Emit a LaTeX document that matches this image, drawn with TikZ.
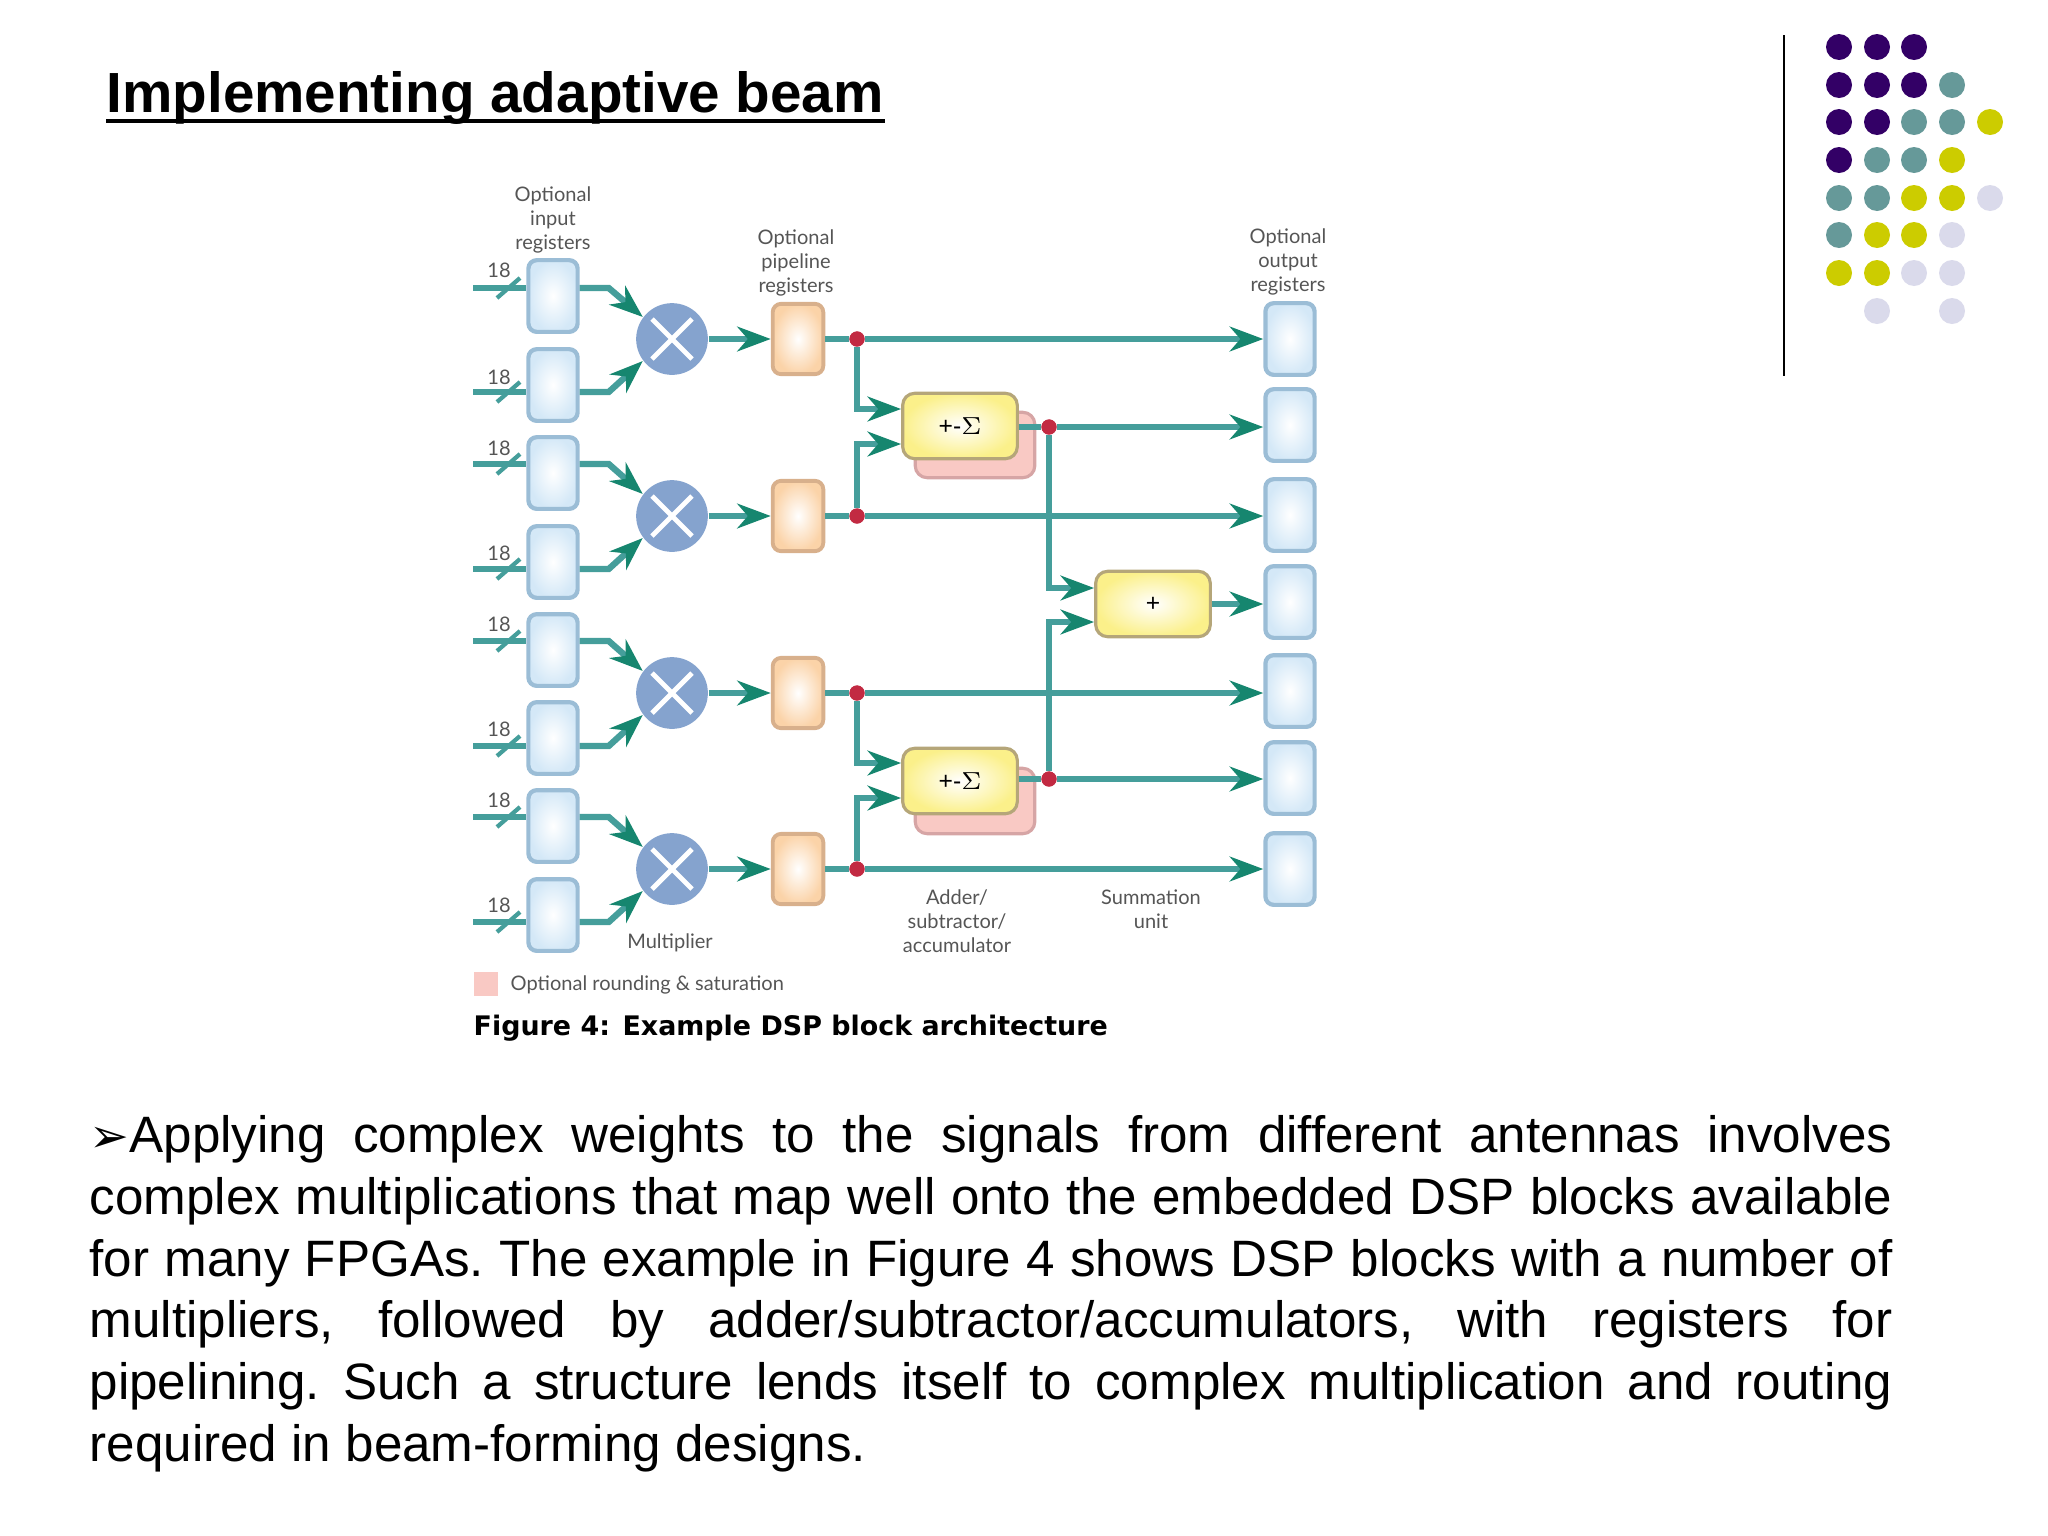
\documentclass[tikz,border=0pt]{standalone}
\usepackage{fontspec}
\setmainfont{Liberation Sans}
\newfontfamily\labelfont{Lato}
\newfontfamily\capfont{DejaVu Sans}
\newfontfamily\symfont{DejaVu Sans}
\usepackage{tikz}
\usetikzlibrary{arrows.meta,shapes,positioning}
\definecolor{wirecol}{HTML}{459E9B}
\definecolor{headcol}{HTML}{16866F}
\definecolor{dotcol}{HTML}{C22A42}
\definecolor{regedge}{HTML}{9BBDD6}
\definecolor{regfill}{HTML}{D4E8F7}
\definecolor{pipeedge}{HTML}{D8B08C}
\definecolor{pipefill}{HTML}{FBD3A8}
\definecolor{addedge}{HTML}{B5A679}
\definecolor{addfill}{HTML}{FBF08A}
\definecolor{pinkfill}{HTML}{F9C9C4}
\definecolor{pinkedge}{HTML}{D6A5A5}
\definecolor{multfill}{HTML}{85A3CE}
\definecolor{labelcol}{HTML}{555555}
\definecolor{purplecol}{HTML}{330066}
\definecolor{tealcol}{HTML}{669999}
\definecolor{olivecol}{HTML}{CCCC00}
\definecolor{palecol}{HTML}{DADAEB}
\begin{document}
\begin{tikzpicture}[x=0.01cm,y=0.01cm]
    \tikzstyle{every node}+=[inner sep=0pt]
    \tikzstyle{reg}=[draw=regedge,line width=1.2pt,rounded corners=2.4pt,minimum width=14pt,minimum height=20.4pt,inner color=white,outer color=regfill]
    \tikzstyle{pipe}=[draw=pipeedge,line width=1.1pt,rounded corners=2.4pt,minimum width=14.4pt,minimum height=20pt,inner color=white,outer color=pipefill]
    \tikzstyle{addbox}=[draw=addedge,line width=0.9pt,rounded corners=3.4pt,minimum width=32.6pt,minimum height=18.6pt,inner color=white,outer color=addfill,font=\fontsize{7}{8}\selectfont]
    \tikzstyle{pinkbox}=[draw=pinkedge,line width=0.9pt,rounded corners=3.4pt,minimum width=34pt,minimum height=18.6pt,fill=pinkfill]
    \tikzstyle{mult}=[circle,fill=multfill,minimum size=20.4pt]
    \tikzstyle{xline}=[draw=white,line width=1.4pt]
    \tikzstyle{dot}=[circle,fill=dotcol,minimum size=4.3pt]
    \tikzstyle{wire}=[draw=wirecol,line width=1.8pt]
    \tikzstyle{wirearrow}=[wire,-{Stealth[length=9.5pt,width=7pt,inset=3pt,color=headcol]}]
    \tikzstyle{tick}=[draw=wirecol,line width=1.2pt]
    \tikzstyle{lab}=[text=labelcol,font=\labelfont\fontsize{5.7}{6.9}\selectfont,align=center]
    \tikzstyle{num}=[text=labelcol,font=\labelfont\fontsize{5.7}{6}\selectfont]
    \tikzstyle{spot}=[radius=13]

    \useasboundingbox (0,0) rectangle (2048,-1536);

    % title and side rule
    \node (title) [anchor=base west,font=\bfseries\fontsize{16.1}{18}\selectfont] at (106,-112) {Implementing adaptive beam};
    \draw [line width=1pt] (106,-121) -- (885,-121);
    \draw [line width=0.7pt] (1784,-35) -- (1784,-376);

    % colour dots
    \fill [purplecol,spot] (1839,-47) circle;
    \fill [purplecol,spot] (1877,-47) circle;
    \fill [purplecol,spot] (1914,-47) circle;
    \fill [purplecol,spot] (1839,-85) circle;
    \fill [purplecol,spot] (1877,-85) circle;
    \fill [purplecol,spot] (1914,-85) circle;
    \fill [tealcol,spot] (1952,-85) circle;
    \fill [purplecol,spot] (1839,-122) circle;
    \fill [purplecol,spot] (1877,-122) circle;
    \fill [tealcol,spot] (1914,-122) circle;
    \fill [tealcol,spot] (1952,-122) circle;
    \fill [olivecol,spot] (1990,-122) circle;
    \fill [purplecol,spot] (1839,-160) circle;
    \fill [tealcol,spot] (1877,-160) circle;
    \fill [tealcol,spot] (1914,-160) circle;
    \fill [olivecol,spot] (1952,-160) circle;
    \fill [tealcol,spot] (1839,-198) circle;
    \fill [tealcol,spot] (1877,-198) circle;
    \fill [olivecol,spot] (1914,-198) circle;
    \fill [olivecol,spot] (1952,-198) circle;
    \fill [palecol,spot] (1990,-198) circle;
    \fill [tealcol,spot] (1839,-235) circle;
    \fill [olivecol,spot] (1877,-235) circle;
    \fill [olivecol,spot] (1914,-235) circle;
    \fill [palecol,spot] (1952,-235) circle;
    \fill [olivecol,spot] (1839,-273) circle;
    \fill [olivecol,spot] (1877,-273) circle;
    \fill [palecol,spot] (1914,-273) circle;
    \fill [palecol,spot] (1952,-273) circle;
    \fill [palecol,spot] (1877,-311) circle;
    \fill [palecol,spot] (1952,-311) circle;

    % blocks
    \node (ir1) [reg] at (553,-296) {};
    \node (ir2) [reg] at (553,-385) {};
    \node (ir3) [reg] at (553,-473) {};
    \node (ir4) [reg] at (553,-562) {};
    \node (ir5) [reg] at (553,-650) {};
    \node (ir6) [reg] at (553,-738) {};
    \node (ir7) [reg] at (553,-826) {};
    \node (ir8) [reg] at (553,-915) {};
    \node (m1) [mult] at (672,-339) {};
    \node (m2) [mult] at (672,-516) {};
    \node (m3) [mult] at (672,-693) {};
    \node (m4) [mult] at (672,-869) {};
    \node (pr1) [pipe] at (798,-339) {};
    \node (pr2) [pipe] at (798,-516) {};
    \node (pr3) [pipe] at (798,-693) {};
    \node (pr4) [pipe] at (798,-869) {};
    \node (or1) [reg] at (1290,-339) {};
    \node (or2) [reg] at (1290,-425) {};
    \node (or3) [reg] at (1290,-515) {};
    \node (or4) [reg] at (1290,-602) {};
    \node (or5) [reg] at (1290,-691) {};
    \node (or6) [reg] at (1290,-778) {};
    \node (or7) [reg] at (1290,-869) {};
    \node (pk1) [pinkbox] at (975,-445) {};
    \node (add1) [addbox] at (960,-426) {+-$\Sigma$};
    \node (pk2) [pinkbox] at (975,-801) {};
    \node (add2) [addbox] at (960,-781) {+-$\Sigma$};
    \node (sum) [addbox] at (1153,-604) {+};

    % junctions
    \coordinate (c1) at (857,-409);
    \coordinate (c2) at (857,-444);
    \coordinate (c3) at (857,-763);
    \coordinate (c4) at (857,-798);
    \coordinate (c5) at (1049,-588);
    \coordinate (c6) at (1049,-622);
    \node (d1) [dot] at (857,-339) {};
    \node (d2) [dot] at (857,-516) {};
    \node (d3) [dot] at (857,-693) {};
    \node (d4) [dot] at (857,-869) {};
    \node (d5) [dot] at (1049,-427) {};
    \node (d6) [dot] at (1049,-779) {};

    % inputs
    \coordinate (in1) at (473,-288);
    \coordinate (in2) at (473,-392);
    \coordinate (in3) at (473,-464);
    \coordinate (in4) at (473,-569);
    \coordinate (in5) at (473,-641);
    \coordinate (in6) at (473,-746);
    \coordinate (in7) at (473,-817);
    \coordinate (in8) at (473,-922);
    \draw [wire] (in1) -- (ir1.west |- in1);
    \draw [wire] (in2) -- (ir2.west |- in2);
    \draw [wire] (in3) -- (ir3.west |- in3);
    \draw [wire] (in4) -- (ir4.west |- in4);
    \draw [wire] (in5) -- (ir5.west |- in5);
    \draw [wire] (in6) -- (ir6.west |- in6);
    \draw [wire] (in7) -- (ir7.west |- in7);
    \draw [wire] (in8) -- (ir8.west |- in8);
    \draw [tick] ([shift={(24,-10)}]in1) -- ([shift={(47,10)}]in1);
    \draw [tick] ([shift={(24,-10)}]in2) -- ([shift={(47,10)}]in2);
    \draw [tick] ([shift={(24,-10)}]in3) -- ([shift={(47,10)}]in3);
    \draw [tick] ([shift={(24,-10)}]in4) -- ([shift={(47,10)}]in4);
    \draw [tick] ([shift={(24,-10)}]in5) -- ([shift={(47,10)}]in5);
    \draw [tick] ([shift={(24,-10)}]in6) -- ([shift={(47,10)}]in6);
    \draw [tick] ([shift={(24,-10)}]in7) -- ([shift={(47,10)}]in7);
    \draw [tick] ([shift={(24,-10)}]in8) -- ([shift={(47,10)}]in8);
    \node (n1) [num] at (499,-270) {18};
    \node (n2) [num] at (499,-377) {18};
    \node (n3) [num] at (499,-448) {18};
    \node (n4) [num] at (499,-553) {18};
    \node (n5) [num] at (499,-624) {18};
    \node (n6) [num] at (499,-729) {18};
    \node (n7) [num] at (499,-800) {18};
    \node (n8) [num] at (499,-905) {18};

    % register to multiplier
    \draw [wirearrow] (ir1.east |- in1) -- ++(29,0) -- (m1.143);
    \draw [wirearrow] (ir2.east |- in2) -- ++(29,0) -- (m1.217);
    \draw [wirearrow] (ir3.east |- in3) -- ++(29,0) -- (m2.143);
    \draw [wirearrow] (ir4.east |- in4) -- ++(29,0) -- (m2.217);
    \draw [wirearrow] (ir5.east |- in5) -- ++(29,0) -- (m3.143);
    \draw [wirearrow] (ir6.east |- in6) -- ++(29,0) -- (m3.217);
    \draw [wirearrow] (ir7.east |- in7) -- ++(29,0) -- (m4.143);
    \draw [wirearrow] (ir8.east |- in8) -- ++(29,0) -- (m4.217);

    % multiplier crosses
    \draw [xline] ([shift={(-20,20)}]m1.center) -- ([shift={(20,-20)}]m1.center);
    \draw [xline] ([shift={(-20,-20)}]m1.center) -- ([shift={(20,20)}]m1.center);
    \draw [xline] ([shift={(-20,20)}]m2.center) -- ([shift={(20,-20)}]m2.center);
    \draw [xline] ([shift={(-20,-20)}]m2.center) -- ([shift={(20,20)}]m2.center);
    \draw [xline] ([shift={(-20,20)}]m3.center) -- ([shift={(20,-20)}]m3.center);
    \draw [xline] ([shift={(-20,-20)}]m3.center) -- ([shift={(20,20)}]m3.center);
    \draw [xline] ([shift={(-20,20)}]m4.center) -- ([shift={(20,-20)}]m4.center);
    \draw [xline] ([shift={(-20,-20)}]m4.center) -- ([shift={(20,20)}]m4.center);

    % multiplier to pipeline
    \draw [wirearrow] (m1) -- (pr1);
    \draw [wirearrow] (m2) -- (pr2);
    \draw [wirearrow] (m3) -- (pr3);
    \draw [wirearrow] (m4) -- (pr4);

    % pipeline to output
    \draw [wire] (pr1) -- (d1);
    \draw [wire] (pr2) -- (d2);
    \draw [wire] (pr3) -- (d3);
    \draw [wire] (pr4) -- (d4);
    \draw [wirearrow] (d1) -- (or1);
    \draw [wirearrow] (d2) -- (or3.west |- d2);
    \draw [wirearrow] (d3) -- (or5.west |- d3);
    \draw [wirearrow] (d4) -- (or7);
    \draw [wirearrow] (d1) -- (c1) -- (add1.west |- c1);
    \draw [wirearrow] (d2) -- (c2) -- (add1.west |- c2);
    \draw [wirearrow] (d3) -- (c3) -- (add2.west |- c3);
    \draw [wirearrow] (d4) -- (c4) -- (add2.west |- c4);
    \draw [wire] (add1.east |- d5) -- (d5);
    \draw [wire] (add2.east |- d6) -- (d6);
    \draw [wirearrow] (d5) -- (or2.west |- d5);
    \draw [wirearrow] (d6) -- (or6.west |- d6);
    \draw [wirearrow] (d5) -- (c5) -- (sum.west |- c5);
    \draw [wirearrow] (d6) -- (c6) -- (sum.west |- c6);
    \draw [wirearrow] (sum) -- (or4.west |- sum);

    % redraw dots on top
    \node [dot] at (d1) {};
    \node [dot] at (d2) {};
    \node [dot] at (d3) {};
    \node [dot] at (d4) {};
    \node [dot] at (d5) {};
    \node [dot] at (d6) {};

    % labels
    \node (lb1) [lab] at (553,-220) {Optional\\input\\registers};
    \node (lb2) [lab] at (796,-263) {Optional\\pipeline\\registers};
    \node (lb3) [lab] at (1288,-262) {Optional\\output\\registers};
    \node (lb4) [lab] at (670,-943) {Multiplier};
    \node (lb5) [lab] at (957,-921) {Adder/\\subtractor/\\accumulator};
    \node (lb6) [lab] at (1151,-909) {Summation\\unit};
    \node (key) [fill=pinkfill,minimum width=7.1pt,minimum height=7.1pt] at (486,-984) {};
    \node (lb7) [lab,anchor=west] at (510,-985) {Optional rounding \& saturation};
    \node (cap) [anchor=west,font=\capfont\bfseries\fontsize{7.65}{9}\selectfont] at (473,-1028) {Figure 4: Example DSP block architecture};

    % paragraph
    \node (body) [anchor=north west,text width=512.7pt,align=justify,font=\fontsize{14.55}{17.55}\selectfont] at (89,-1115) {\frenchspacing{\symfont\fontsize{13.5}{17.55}\selectfont ➢}Applying complex weights to the signals from different antennas involves\linebreak complex multiplications that map well onto the embedded DSP blocks available\linebreak for many FPGAs. The example in Figure 4 shows DSP blocks with a number of\linebreak multipliers, followed by adder/subtractor/accumulators, with registers for\linebreak pipelining. Such a structure lends itself to complex multiplication and routing\linebreak required in beam-forming designs.};
\end{tikzpicture}
\end{document}
